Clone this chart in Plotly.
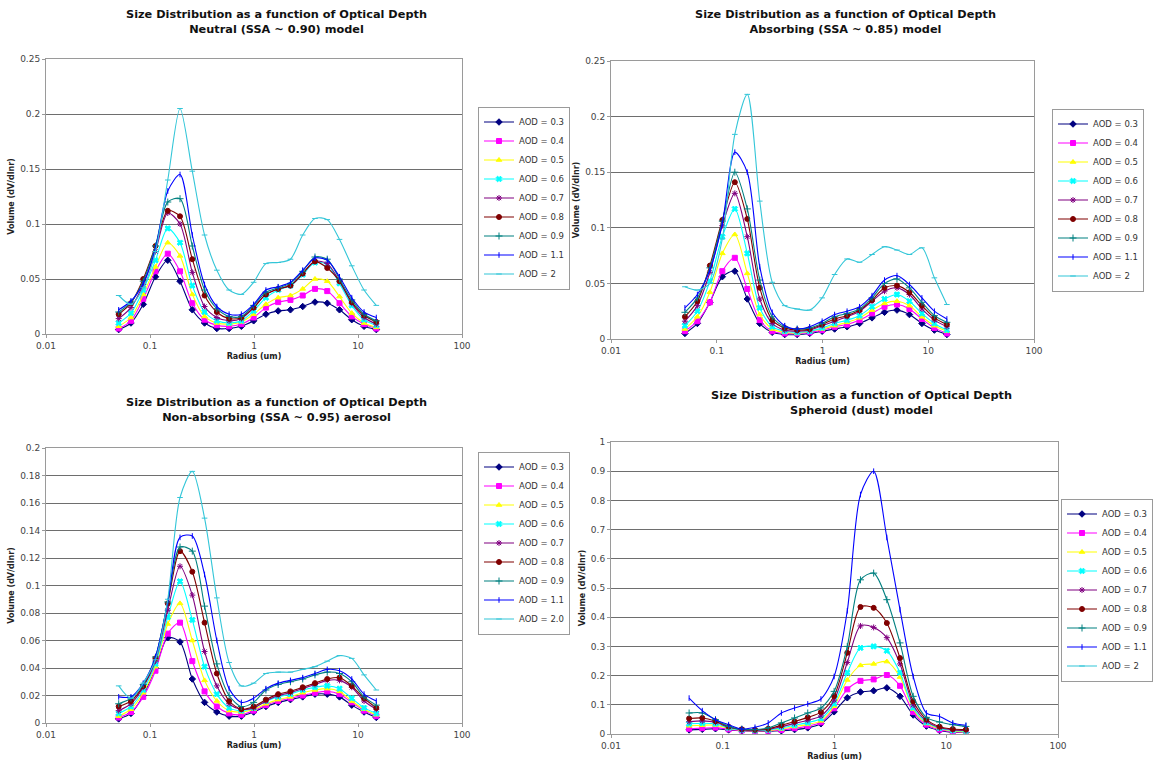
import plotly.graph_objects as go

# ---------------- data ----------------
RADIUS = [0.05, 0.0656, 0.0861, 0.1129, 0.1482, 0.1944, 0.2551, 0.3347, 0.4392, 0.5762, 0.7561,
          0.9920, 1.3016, 1.7078, 2.2407, 2.9400, 3.8575, 5.0613, 6.6407, 8.7131, 11.4323, 15.0]

AOD_LABELS = ["AOD = 0.3", "AOD = 0.4", "AOD = 0.5", "AOD = 0.6", "AOD = 0.7",
              "AOD = 0.8", "AOD = 0.9", "AOD = 1.1", "AOD = 2"]
AOD_LABELS_NONABS = ["AOD = 0.3", "AOD = 0.4", "AOD = 0.5", "AOD = 0.6", "AOD = 0.7",
                     "AOD = 0.8", "AOD = 0.9", "AOD = 1.1", "AOD = 2.0"]

X_TICKVALS = [0.01, 0.1, 1, 10, 100]
X_TICKTEXT = ["0.01", "0.1", "1", "10", "100"]

# Neutral (SSA ~ 0.90)
NEU_03 = [0.004, 0.010, 0.027, 0.052, 0.067, 0.048, 0.022, 0.010, 0.005, 0.005, 0.007, 0.012, 0.018, 0.021, 0.022, 0.025, 0.029, 0.028, 0.022, 0.013, 0.007, 0.004]
NEU_04 = [0.005, 0.012, 0.032, 0.057, 0.073, 0.057, 0.028, 0.013, 0.008, 0.007, 0.009, 0.015, 0.024, 0.029, 0.031, 0.035, 0.041, 0.039, 0.028, 0.016, 0.009, 0.005]
NEU_05 = [0.007, 0.015, 0.036, 0.061, 0.083, 0.071, 0.036, 0.016, 0.010, 0.009, 0.011, 0.018, 0.027, 0.033, 0.035, 0.041, 0.050, 0.048, 0.034, 0.019, 0.010, 0.006]
NEU_06 = [0.010, 0.019, 0.040, 0.067, 0.096, 0.083, 0.044, 0.020, 0.012, 0.010, 0.012, 0.021, 0.033, 0.040, 0.044, 0.054, 0.065, 0.063, 0.046, 0.026, 0.013, 0.008]
NEU_07 = [0.014, 0.024, 0.045, 0.075, 0.110, 0.100, 0.056, 0.025, 0.015, 0.012, 0.014, 0.024, 0.036, 0.041, 0.044, 0.055, 0.066, 0.064, 0.048, 0.028, 0.015, 0.009]
NEU_08 = [0.018, 0.028, 0.050, 0.080, 0.112, 0.107, 0.068, 0.035, 0.020, 0.014, 0.015, 0.024, 0.036, 0.041, 0.044, 0.055, 0.066, 0.060, 0.048, 0.029, 0.017, 0.011]
NEU_09 = [0.020, 0.029, 0.048, 0.080, 0.120, 0.123, 0.080, 0.040, 0.023, 0.016, 0.016, 0.026, 0.038, 0.042, 0.046, 0.057, 0.070, 0.068, 0.050, 0.031, 0.018, 0.012]
NEU_11 = [0.022, 0.030, 0.046, 0.078, 0.130, 0.145, 0.090, 0.045, 0.025, 0.018, 0.018, 0.027, 0.040, 0.043, 0.047, 0.058, 0.069, 0.067, 0.052, 0.033, 0.020, 0.015]
NEU_20 = [0.035, 0.027, 0.042, 0.075, 0.140, 0.205, 0.148, 0.090, 0.058, 0.040, 0.036, 0.047, 0.064, 0.065, 0.068, 0.090, 0.105, 0.104, 0.086, 0.062, 0.040, 0.026]

# Absorbing (SSA ~ 0.85)
ABS_03 = [0.005, 0.014, 0.033, 0.056, 0.061, 0.036, 0.014, 0.006, 0.004, 0.004, 0.005, 0.007, 0.009, 0.011, 0.014, 0.019, 0.024, 0.026, 0.022, 0.014, 0.008, 0.004]
ABS_04 = [0.007, 0.016, 0.033, 0.061, 0.073, 0.045, 0.017, 0.007, 0.005, 0.005, 0.006, 0.008, 0.011, 0.013, 0.017, 0.023, 0.029, 0.031, 0.027, 0.018, 0.010, 0.005]
ABS_05 = [0.009, 0.020, 0.042, 0.077, 0.094, 0.059, 0.022, 0.009, 0.006, 0.005, 0.007, 0.009, 0.012, 0.015, 0.019, 0.026, 0.032, 0.034, 0.030, 0.020, 0.012, 0.007]
ABS_06 = [0.012, 0.025, 0.052, 0.092, 0.117, 0.077, 0.028, 0.011, 0.007, 0.006, 0.007, 0.010, 0.014, 0.017, 0.021, 0.029, 0.036, 0.040, 0.034, 0.023, 0.014, 0.008]
ABS_07 = [0.016, 0.030, 0.060, 0.102, 0.131, 0.092, 0.036, 0.014, 0.008, 0.007, 0.008, 0.012, 0.016, 0.020, 0.025, 0.034, 0.043, 0.046, 0.040, 0.027, 0.017, 0.011]
ABS_08 = [0.020, 0.034, 0.066, 0.107, 0.141, 0.108, 0.046, 0.017, 0.010, 0.008, 0.009, 0.013, 0.018, 0.021, 0.026, 0.035, 0.046, 0.048, 0.042, 0.030, 0.019, 0.013]
ABS_09 = [0.024, 0.037, 0.064, 0.106, 0.150, 0.117, 0.053, 0.020, 0.011, 0.009, 0.010, 0.014, 0.020, 0.023, 0.027, 0.037, 0.050, 0.054, 0.046, 0.033, 0.021, 0.015]
ABS_11 = [0.028, 0.040, 0.062, 0.104, 0.168, 0.150, 0.065, 0.024, 0.012, 0.009, 0.011, 0.016, 0.022, 0.025, 0.029, 0.039, 0.053, 0.057, 0.049, 0.037, 0.025, 0.018]
ABS_20 = [0.047, 0.044, 0.050, 0.090, 0.184, 0.220, 0.124, 0.051, 0.030, 0.027, 0.026, 0.037, 0.058, 0.072, 0.069, 0.076, 0.083, 0.080, 0.076, 0.082, 0.055, 0.031]

# Non-absorbing (SSA ~ 0.95)
NON_03 = [0.003, 0.007, 0.020, 0.040, 0.062, 0.059, 0.032, 0.015, 0.008, 0.005, 0.005, 0.008, 0.012, 0.015, 0.017, 0.019, 0.021, 0.021, 0.019, 0.013, 0.008, 0.004]
NON_04 = [0.004, 0.008, 0.019, 0.038, 0.065, 0.073, 0.045, 0.023, 0.012, 0.007, 0.006, 0.009, 0.013, 0.016, 0.018, 0.020, 0.022, 0.023, 0.021, 0.015, 0.009, 0.005]
NON_05 = [0.005, 0.010, 0.022, 0.041, 0.072, 0.087, 0.060, 0.031, 0.016, 0.009, 0.008, 0.010, 0.014, 0.017, 0.019, 0.022, 0.024, 0.025, 0.023, 0.016, 0.010, 0.006]
NON_06 = [0.007, 0.012, 0.024, 0.043, 0.077, 0.103, 0.075, 0.041, 0.021, 0.011, 0.009, 0.011, 0.016, 0.019, 0.021, 0.024, 0.026, 0.027, 0.025, 0.018, 0.011, 0.007]
NON_07 = [0.009, 0.014, 0.026, 0.045, 0.082, 0.114, 0.093, 0.052, 0.027, 0.014, 0.010, 0.011, 0.016, 0.020, 0.022, 0.025, 0.028, 0.031, 0.031, 0.026, 0.016, 0.010]
NON_08 = [0.012, 0.016, 0.027, 0.047, 0.087, 0.125, 0.110, 0.073, 0.036, 0.016, 0.010, 0.012, 0.017, 0.021, 0.023, 0.026, 0.029, 0.032, 0.033, 0.027, 0.018, 0.011]
NON_09 = [0.014, 0.018, 0.028, 0.048, 0.088, 0.128, 0.125, 0.085, 0.043, 0.020, 0.012, 0.015, 0.024, 0.028, 0.030, 0.032, 0.035, 0.037, 0.036, 0.030, 0.019, 0.013]
NON_11 = [0.019, 0.019, 0.029, 0.048, 0.088, 0.135, 0.136, 0.108, 0.060, 0.025, 0.015, 0.018, 0.025, 0.029, 0.031, 0.033, 0.036, 0.039, 0.038, 0.032, 0.021, 0.016]
NON_20 = [0.027, 0.018, 0.029, 0.046, 0.090, 0.164, 0.183, 0.149, 0.091, 0.044, 0.027, 0.029, 0.036, 0.037, 0.037, 0.039, 0.041, 0.045, 0.049, 0.047, 0.035, 0.024]

# Spheroid (dust)
DUST_03 = [0.014, 0.016, 0.018, 0.014, 0.011, 0.009, 0.009, 0.011, 0.015, 0.021, 0.035, 0.076, 0.124, 0.144, 0.148, 0.158, 0.129, 0.065, 0.027, 0.012, 0.006, 0.005]
DUST_04 = [0.018, 0.020, 0.022, 0.016, 0.012, 0.010, 0.011, 0.014, 0.020, 0.027, 0.040, 0.088, 0.153, 0.182, 0.187, 0.202, 0.165, 0.075, 0.032, 0.015, 0.008, 0.006]
DUST_05 = [0.028, 0.030, 0.030, 0.019, 0.013, 0.011, 0.012, 0.017, 0.025, 0.033, 0.045, 0.095, 0.185, 0.235, 0.240, 0.248, 0.195, 0.085, 0.036, 0.018, 0.010, 0.008]
DUST_06 = [0.035, 0.037, 0.035, 0.021, 0.014, 0.012, 0.014, 0.021, 0.030, 0.039, 0.053, 0.104, 0.210, 0.295, 0.300, 0.285, 0.210, 0.090, 0.040, 0.020, 0.012, 0.010]
DUST_07 = [0.042, 0.045, 0.040, 0.023, 0.015, 0.013, 0.016, 0.025, 0.036, 0.047, 0.062, 0.116, 0.245, 0.370, 0.365, 0.330, 0.240, 0.100, 0.044, 0.022, 0.014, 0.012]
DUST_08 = [0.053, 0.055, 0.044, 0.025, 0.016, 0.014, 0.018, 0.030, 0.043, 0.057, 0.075, 0.130, 0.278, 0.435, 0.432, 0.380, 0.260, 0.112, 0.050, 0.025, 0.017, 0.015]
DUST_09 = [0.072, 0.072, 0.049, 0.026, 0.017, 0.015, 0.021, 0.038, 0.055, 0.072, 0.089, 0.146, 0.300, 0.528, 0.551, 0.460, 0.312, 0.129, 0.057, 0.041, 0.032, 0.026]
DUST_11 = [0.123, 0.080, 0.049, 0.032, 0.017, 0.023, 0.038, 0.072, 0.089, 0.103, 0.120, 0.197, 0.422, 0.820, 0.900, 0.673, 0.426, 0.197, 0.072, 0.060, 0.038, 0.030]
DUST_20 = [None] * 22  # no AOD = 2 data in the dust model (legend entry only)

NEUTRAL = [NEU_03, NEU_04, NEU_05, NEU_06, NEU_07, NEU_08, NEU_09, NEU_11, NEU_20]
ABSORBING = [ABS_03, ABS_04, ABS_05, ABS_06, ABS_07, ABS_08, ABS_09, ABS_11, ABS_20]
NONABS = [NON_03, NON_04, NON_05, NON_06, NON_07, NON_08, NON_09, NON_11, NON_20]
DUST = [DUST_03, DUST_04, DUST_05, DUST_06, DUST_07, DUST_08, DUST_09, DUST_11, DUST_20]

# ---------------- styles ----------------
COLORS = ["#000080", "#FF00FF", "#FFFF00", "#00FFFF", "#800080", "#800000", "#008080", "#0000FF", "#33C6D8"]
SYMBOLS = ["diamond", "square", "triangle-up", "x", "asterisk-open", "circle",
           "cross-thin-open", "line-ns-open", "line-ew-open"]
SIZES = [5, 5, 5, 5, 5, 5, 5, 4, 4]

FONT = "DejaVu Sans"
W, H = 1156, 772

fig = go.Figure()

panels = [
    dict(data=NEUTRAL, labels=AOD_LABELS, xa="x", ya="y", legend="legend"),
    dict(data=ABSORBING, labels=AOD_LABELS, xa="x2", ya="y2", legend="legend2"),
    dict(data=NONABS, labels=AOD_LABELS_NONABS, xa="x3", ya="y3", legend="legend3"),
    dict(data=DUST, labels=AOD_LABELS, xa="x4", ya="y4", legend="legend4"),
]

for p in panels:
    for i, (vals, lab) in enumerate(zip(p["data"], p["labels"])):
        fig.add_trace(go.Scatter(
            x=RADIUS, y=vals, name=lab, mode="lines+markers",
            xaxis=p["xa"], yaxis=p["ya"], legend=p["legend"],
            line=dict(color=COLORS[i], width=1.1, shape="spline", smoothing=0.8),
            marker=dict(symbol=SYMBOLS[i], size=SIZES[i], color=COLORS[i],
                        line=dict(color=COLORS[i], width=1)),
        ))


def px_x(v):
    return v / W


def px_y(v):
    return 1 - v / H


def xaxis(dom, anchor):
    return dict(type="log", range=[-2, 2], domain=dom, anchor=anchor, automargin=False,
                tickvals=X_TICKVALS, ticktext=X_TICKTEXT,
                showgrid=False, zeroline=False,
                showline=True, mirror=True, linecolor="#9a9a9a", linewidth=1,
                ticks="outside", ticklen=3, tickcolor="#9a9a9a",
                tickfont=dict(family=FONT, size=9, color="#444444"),
                title=dict(text="Radius (um)", standoff=3,
                           font=dict(family=FONT, size=8, color="#222222", weight="bold")))


def yaxis(dom, anchor, rng, dtick):
    return dict(range=rng, dtick=dtick, domain=dom, anchor=anchor, automargin=False,
                showgrid=True, gridcolor="#6e6e6e", gridwidth=1, zeroline=False,
                showline=True, mirror=True, linecolor="#9a9a9a", linewidth=1,
                ticks="outside", ticklen=3, tickcolor="#9a9a9a",
                tickfont=dict(family=FONT, size=9, color="#444444"),
                title=dict(text="Volume (dV/dlnr)", standoff=4,
                           font=dict(family=FONT, size=8, color="#222222", weight="bold")))


def legend(xpx, ycpx, xanchor="left"):
    return dict(x=px_x(xpx), y=px_y(ycpx), xanchor=xanchor, yanchor="middle",
                bgcolor="white", bordercolor="#9a9a9a", borderwidth=1,
                font=dict(family=FONT, size=8.5, color="#333333"),
                itemwidth=30, tracegroupgap=0)


layout = dict(
    width=W, height=H, margin=dict(l=0, r=0, t=0, b=0, autoexpand=False),
    paper_bgcolor="white", plot_bgcolor="white", showlegend=True,
    font=dict(family=FONT),
    xaxis=xaxis([px_x(46), px_x(462)], "y"),
    yaxis=yaxis([px_y(334), px_y(59)], "x", [0, 0.25], 0.05),
    xaxis2=xaxis([px_x(611), px_x(1034)], "y2"),
    yaxis2=yaxis([px_y(339), px_y(61)], "x2", [0, 0.25], 0.05),
    xaxis3=xaxis([px_x(46), px_x(462)], "y3"),
    yaxis3=yaxis([px_y(723), px_y(448)], "x3", [0, 0.2], 0.02),
    xaxis4=xaxis([px_x(611), px_x(1058)], "y4"),
    yaxis4=yaxis([px_y(734), px_y(442)], "x4", [0, 1], 0.1),
    legend=legend(478, 198),
    legend2=legend(1052, 200),
    legend3=legend(478, 543),
    legend4=legend(1153, 590, "right"),
)
fig.update_layout(**layout)

TITLES = [
    ("Size Distribution as a function of Optical Depth<br>Neutral (SSA ~ 0.90) model", 276, 6),
    ("Size Distribution as a function of Optical Depth<br>Absorbing (SSA ~ 0.85) model", 845, 6),
    ("Size Distribution as a function of Optical Depth<br>Non-absorbing (SSA ~ 0.95) aerosol", 276, 394),
    ("Size Distribution as a function of Optical Depth<br>Spheroid (dust) model", 861, 387),
]
for text, xpx, ypx in TITLES:
    fig.add_annotation(text=text, x=px_x(xpx), y=px_y(ypx), xref="paper", yref="paper",
                       xanchor="center", yanchor="top", showarrow=False, align="center",
                       font=dict(family=FONT, size=11.3, color="#111111", weight="bold"))

fig.write_html("out.html", config={"displayModeBar": False},
               post_script="document.body.style.margin='0';")
